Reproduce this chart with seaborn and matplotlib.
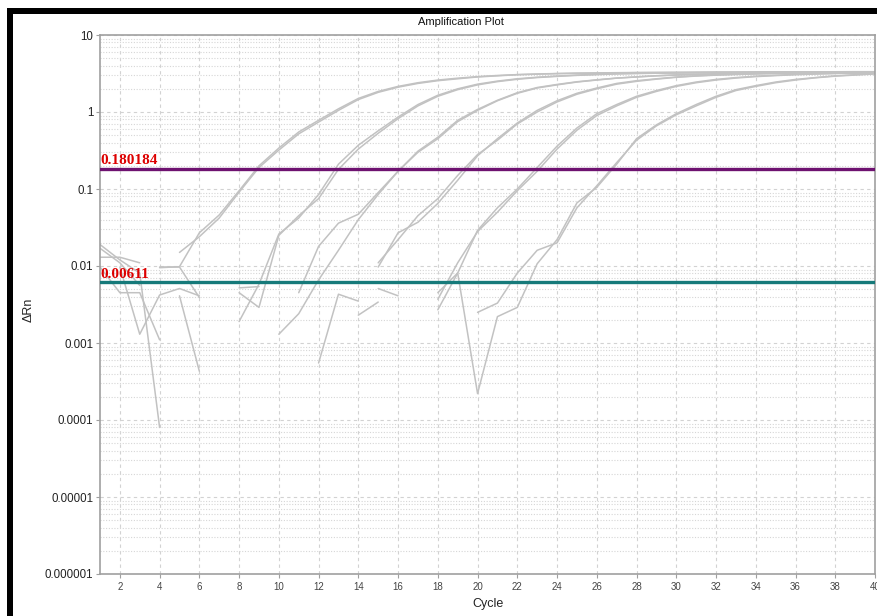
import numpy as np
import pandas as pd
import matplotlib
matplotlib.use("Agg")
import matplotlib.pyplot as plt
import seaborn as sns
from matplotlib.patches import Rectangle
from matplotlib.ticker import FixedLocator, NullFormatter

nan = float("nan")

# Cycle numbers of the run
cycles = list(range(1, 41))

# Delta Rn per cycle for each well (nan = value not plotted on log axis)
well_A1 = [0.017, 0.011, 0.0056, nan, 0.015, 0.024, 0.042, 0.091, 0.19, 0.32,
           0.52, 0.74, 1.05, 1.45, 1.8, 2.1, 2.35, 2.55, 2.7, 2.85,
           2.95, 3.05, 3.1, 3.15, 3.18, 3.2, 3.22, 3.24, 3.25, 3.26,
           3.27, 3.28, 3.29, 3.3, 3.3, 3.31, 3.31, 3.32, 3.32, 3.33]
well_A2 = [nan, nan, nan, 0.0095, 0.0098, 0.027, 0.046, 0.095, 0.2, 0.34,
           0.55, 0.78, 1.1, 1.5, 1.85, 2.15, 2.4, 2.6, 2.75, 2.88,
           2.98, 3.06, 3.12, 3.16, 3.2, 3.22, 3.24, 3.26, 3.27, 3.28,
           3.29, 3.3, 3.3, 3.31, 3.32, 3.32, 3.33, 3.33, 3.34, 3.34]
well_B1 = [0.013, 0.013, 0.011, nan, nan, nan, nan, 0.0019, 0.0058, 0.026,
           0.042, 0.085, 0.21, 0.37, 0.57, 0.86, 1.25, 1.65, 2.0, 2.3,
           2.52, 2.7, 2.83, 2.93, 3.02, 3.08, 3.14, 3.18, 3.2, 3.22,
           3.24, 3.25, 3.26, 3.27, 3.28, 3.28, 3.29, 3.3, 3.3, 3.31]
well_B2 = [nan, 0.0097, 0.0013, 0.0042, 0.0051, 0.0041, nan, 0.0045, 0.0029, 0.025,
           0.045, 0.075, 0.18, 0.33, 0.53, 0.82, 1.2, 1.6, 1.95, 2.25,
           2.48, 2.66, 2.8, 2.9, 2.99, 3.06, 3.12, 3.16, 3.19, 3.21,
           3.23, 3.24, 3.25, 3.26, 3.27, 3.28, 3.28, 3.29, 3.3, 3.3]
well_C1 = [0.0097, 0.0045, 0.0045, 0.0011, nan, nan, nan, 0.0052, 0.0054, nan,
           0.0045, 0.018, 0.036, 0.047, 0.09, 0.17, 0.3, 0.45, 0.75, 1.05,
           1.4, 1.75, 2.05, 2.25, 2.45, 2.6, 2.75, 2.85, 2.95, 3.02,
           3.07, 3.12, 3.15, 3.18, 3.2, 3.22, 3.24, 3.25, 3.26, 3.27]
well_C2 = [nan, nan, nan, 0.0097, 0.0097, 0.0039, nan, nan, nan, 0.0013,
           0.0024, 0.0066, 0.016, 0.04, 0.085, 0.17, 0.31, 0.47, 0.78, 1.08,
           1.42, 1.78, 2.08, 2.28, 2.47, 2.62, 2.76, 2.86, 2.96, 3.03,
           3.08, 3.13, 3.16, 3.19, 3.21, 3.23, 3.25, 3.26, 3.27, 3.28]
well_D1 = [nan, nan, nan, nan, 0.0041, 0.00043, nan, nan, nan, nan,
           nan, nan, nan, nan, 0.0097, 0.027, 0.037, 0.065, 0.13, 0.27,
           0.45, 0.72, 1.05, 1.4, 1.75, 2.05, 2.35, 2.55, 2.7, 2.85,
           2.95, 3.03, 3.09, 3.14, 3.18, 3.21, 3.23, 3.25, 3.26, 3.27]
well_D2 = [0.019, 0.012, 0.0081, 0.00008, nan, nan, nan, nan, nan, nan,
           nan, nan, nan, nan, 0.011, 0.022, 0.045, 0.075, 0.15, 0.28,
           0.43, 0.7, 1.0, 1.35, 1.7, 2.0, 2.3, 2.5, 2.67, 2.82,
           2.93, 3.01, 3.07, 3.12, 3.16, 3.19, 3.22, 3.24, 3.25, 3.26]
well_E1 = [nan, nan, nan, nan, nan, nan, nan, nan, nan, nan,
           nan, nan, nan, 0.0023, 0.0034, nan, nan, 0.0027, 0.0081, 0.029,
           0.057, 0.10, 0.19, 0.36, 0.62, 0.95, 1.25, 1.6, 1.9, 2.2,
           2.45, 2.65, 2.8, 2.92, 3.0, 3.08, 3.13, 3.18, 3.22, 3.25]
well_E2 = [nan, nan, nan, nan, nan, nan, nan, nan, nan, nan,
           nan, nan, nan, nan, 0.0051, 0.0041, nan, 0.0037, 0.011, 0.028,
           0.05, 0.095, 0.17, 0.33, 0.58, 0.9, 1.2, 1.55, 1.85, 2.15,
           2.4, 2.6, 2.76, 2.88, 2.97, 3.05, 3.11, 3.16, 3.2, 3.23]
well_F1 = [nan, nan, nan, nan, nan, nan, nan, nan, nan, nan,
           nan, nan, nan, nan, nan, nan, nan, 0.0045, 0.0081, 0.00022,
           0.0022, 0.0029, 0.0107, 0.022, 0.066, 0.105, 0.21, 0.45, 0.68, 0.95,
           1.25, 1.6, 1.95, 2.2, 2.45, 2.65, 2.8, 2.95, 3.05, 3.15]
well_F2 = [nan, nan, nan, nan, nan, nan, nan, nan, nan, nan,
           nan, 0.00055, 0.0043, 0.0035, nan, nan, nan, nan, nan, 0.0025,
           0.0033, 0.0081, 0.016, 0.020, 0.057, 0.11, 0.22, 0.43, 0.66, 0.92,
           1.2, 1.55, 1.9, 2.15, 2.4, 2.6, 2.78, 2.92, 3.02, 3.12]

# Threshold settings
thresholds = [0.180184, 0.00611]
threshold_labels = ["0.180184", "0.00611"]
threshold_colors = ["#6e1270", "#167a7a"]

# Axis ticks
xtick_values = list(range(2, 41, 2))
ytick_values = [1e-6, 1e-5, 1e-4, 1e-3, 1e-2, 1e-1, 1, 10]
ytick_labels = ["0.000001", "0.00001", "0.0001", "0.001", "0.01", "0.1", "1", "10"]

wells = {
    "A1": well_A1, "A2": well_A2, "B1": well_B1, "B2": well_B2,
    "C1": well_C1, "C2": well_C2, "D1": well_D1, "D2": well_D2,
    "E1": well_E1, "E2": well_E2, "F1": well_F1, "F2": well_F2,
}

# Long table; each unbroken run of values becomes its own drawing unit so
# missing cycles leave gaps in the traces.
rows = []
for name, vals in wells.items():
    seg = 0
    gap = True
    for c, v in zip(cycles, vals):
        if np.isnan(v):
            gap = True
            continue
        if gap:
            seg += 1
            gap = False
        rows.append({"well": name, "segment": f"{name}-{seg}", "cycle": c, "drn": v})
df = pd.DataFrame(rows)

sns.set_theme(style="white")
plt.rcParams["font.family"] = ["Liberation Sans", "DejaVu Sans"]

W, H = 877, 616
fig = plt.figure(figsize=(W / 100, H / 100), dpi=100)
fig.patch.set_facecolor("white")

ax = fig.add_axes([100 / W, 1 - 574 / H, 775 / W, 539 / H])
ax.set_yscale("log")

sns.lineplot(data=df, x="cycle", y="drn", units="segment", estimator=None,
             color="#c2c2c2", linewidth=1.1, legend=False, ax=ax)

ax.set_xlim(1, 40)
ax.set_ylim(1e-6, 10)

# Grid: dashed majors, dotted minor decades
ax.yaxis.set_major_locator(FixedLocator(ytick_values))
ax.set_yticklabels(ytick_labels)
minor = [m * 10.0 ** e for e in range(-6, 1) for m in range(2, 10)]
ax.yaxis.set_minor_locator(FixedLocator(minor))
ax.yaxis.set_minor_formatter(NullFormatter())
ax.set_xticks(xtick_values)
ax.grid(which="major", axis="both", color="#d2d2d2", linestyle=(0, (3, 3)), linewidth=0.8)
ax.grid(which="minor", axis="y", color="#d6d6d6", linestyle=(0, (1, 1.5)), linewidth=0.8)
ax.set_axisbelow(True)

for sp in ax.spines.values():
    sp.set_color("#a0a0a0")
    sp.set_linewidth(1.2)

ax.tick_params(axis="y", which="major", length=3, width=0.8, color="#a0a0a0",
               labelsize=8.3, labelcolor="#222222", pad=2, left=True)
ax.tick_params(axis="y", which="minor", length=0)
ax.tick_params(axis="x", which="major", length=3, width=0.8, color="#a0a0a0",
               labelsize=7, labelcolor="#444444", pad=3, bottom=True)

ax.set_xlabel("Cycle", fontsize=9, color="#222222", labelpad=4)
ax.set_ylabel("ΔRn", fontsize=9, color="#222222")
ax.yaxis.set_label_coords((35 - 100) / 775, (574 - 310) / 539)

# Threshold lines with their values
for val, lab, col in zip(thresholds, threshold_labels, threshold_colors):
    ax.axhline(val, color=col, linewidth=2.4, zorder=5)
    ax.text(1.0, val * 1.06, lab, color="#dd0000", fontsize=11,
            family=["Liberation Serif", "DejaVu Serif"], fontweight="bold",
            ha="left", va="bottom", zorder=6)

fig.text(461 / W, 1 - 22 / H, "Amplification Plot", ha="center", va="center",
         fontsize=8, color="#111111")

# Black frame around the window
fig.patches.append(Rectangle((7 / W, 0), 6 / W, (H - 8) / H, transform=fig.transFigure,
                             facecolor="black", edgecolor="none", figure=fig))
fig.patches.append(Rectangle((7 / W, 1 - 14 / H), 1, 6 / H, transform=fig.transFigure,
                             facecolor="black", edgecolor="none", figure=fig))

fig.savefig("out.png", dpi=100)
